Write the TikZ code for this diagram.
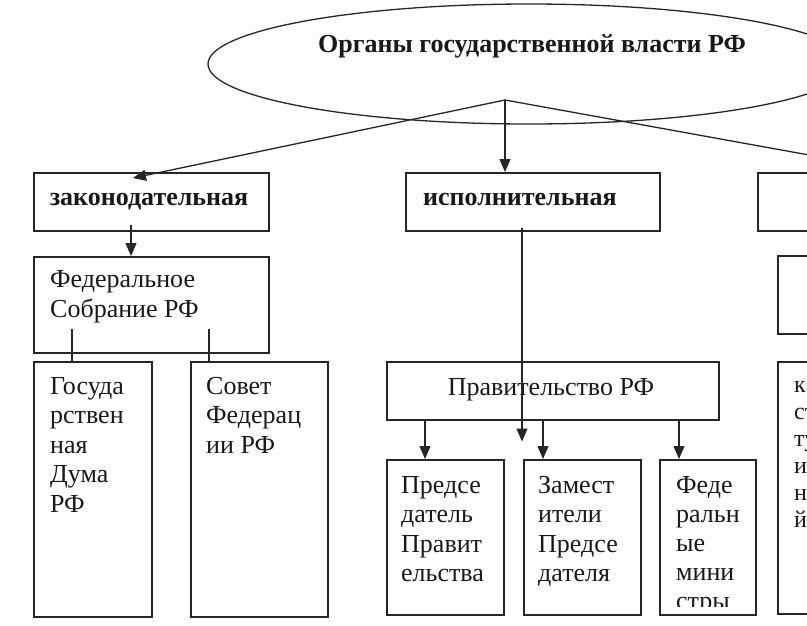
\documentclass[tikz,border=0pt]{standalone}
\usepackage{fontspec}
\setmainfont{Liberation Serif}
\usetikzlibrary{shapes.geometric,arrows.meta,calc}
\tikzset{
  box/.style={draw=black!85, line width=1.5pt, rectangle, inner sep=0pt, anchor=north west},
  txt/.style={font=\fontsize{26}{29.5}\selectfont, align=left, anchor=north west, inner sep=0pt, text=black!90},
  btxt/.style={font=\bfseries\fontsize{26}{30}\selectfont, inner sep=0pt, text=black!90, anchor=base},
  conn/.style={draw=black!85, line width=1.3pt},
  arr/.style={conn, -{Triangle[length=13pt,width=11pt]}},
}
\begin{document}
\begin{tikzpicture}[x=1pt,y=-1pt]
\clip (0,0) rectangle (807,625);
\fill[white] (0,0) rectangle (807,625);
% top ellipse
\node[draw=black!85, line width=1.3pt, ellipse, minimum width=642pt, minimum height=120pt, inner sep=0pt] (org) at (529,64) {};
\node[btxt] (orgT) at (532,52) {Органы государственной власти РФ};
\coordinate (apex) at (505,100);
% level 1 boxes
\node[box, minimum width=235pt, minimum height=58pt] (zak) at (33,172) {};
\node[btxt] (zakT) at (149,205) {законодательная};
\node[box, minimum width=254pt, minimum height=58pt] (isp) at (405,172) {};
\node[btxt, anchor=base west] (ispT) at (423,205) {исполнительная};
\node[box, minimum width=180pt, minimum height=58pt] (sud) at (757,172) {};
% legislative
\node[box, minimum width=235pt, minimum height=96pt] (fs) at (33,256) {};
\node[txt, font=\fontsize{26}{30.5}\selectfont] (fsT) at (50,270) {Федеральное\\Собрание РФ};
\node[box, minimum width=118pt, minimum height=255pt] (duma) at (33,361) {};
\node[txt] (dumaT) at (50,377) {Госуда\\рствен\\ная\\Дума\\РФ};
\node[box, minimum width=137pt, minimum height=255pt] (sovet) at (190,361) {};
\node[txt] (sovetT) at (206,377) {Совет\\Федерац\\ии РФ};
% executive
\node[box, minimum width=332pt, minimum height=58pt] (prav) at (386,361) {};
\node[txt, anchor=base] (pravT) at (551,395) {Правительство РФ};
\node[box, minimum width=117pt, minimum height=155pt] (pred) at (386,459) {};
\node[txt, font=\fontsize{26}{29.5}\selectfont] (predT) at (401,476) {Предсе\\датель\\Правит\\ельства};
\node[box, minimum width=117pt, minimum height=155pt] (zam) at (523,459) {};
\node[txt, font=\fontsize{26}{29.5}\selectfont] (zamT) at (538,476) {Замест\\ители\\Предсе\\дателя};
\node[box, minimum width=96pt, minimum height=155pt] (fm) at (659,459) {};
\begin{scope}
\clip (659,459) rectangle (755,606);
\node[txt, font=\fontsize{26}{29}\selectfont] (fmT) at (676,476) {Феде\\ральн\\ые\\мини\\стры};
\end{scope}
% right column (cut off)
\node[box, minimum width=60pt, minimum height=78pt] (ks) at (777,255) {};
\node[box, minimum width=60pt, minimum height=252pt] (ks2) at (777,361) {};
\node[txt, font=\fontsize{24}{27}\selectfont] (ks2T) at (794,381) {к\\ст\\ту\\и\\н\\й};
% connectors
\draw[arr] (apex) -- ($(zak.north west)+(100,6)$);
\draw[arr] (apex) -- ($(isp.north west)+(100,0)$);
\draw[conn] (apex) -- ($(sud.north west)+(146,0)$);
\draw[arr] ($(zak.south west)+(98,-7)$) -- ($(fs.north west)+(98,0)$);
\draw[conn] ($(fs.south west)+(39,-25)$) -- ($(duma.north west)+(39,0)$);
\draw[conn] ($(fs.south west)+(176,-25)$) -- ($(sovet.north west)+(19,0)$);
\coordinate (ispEnd) at ($(prav.south west)+(136,21)$);
\draw[arr] ($(isp.south west)+(117,-4)$) -- (ispEnd);
\draw[arr] ($(prav.south west)+(39,0)$) -- ($(pred.north west)+(39,0)$);
\draw[arr] ($(prav.south west)+(157,0)$) -- ($(zam.north west)+(20,0)$);
\draw[arr] ($(prav.south west)+(293,0)$) -- ($(fm.north west)+(20,0)$);
\end{tikzpicture}
\end{document}
